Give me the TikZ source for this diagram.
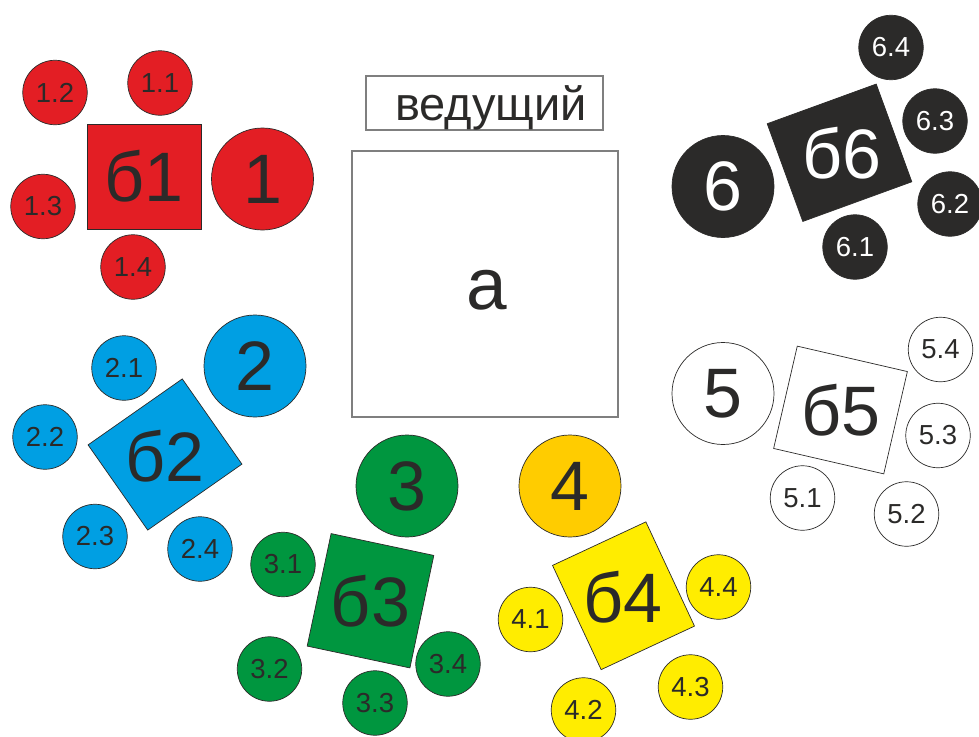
\documentclass[tikz,border=0pt]{standalone}
\usepackage{fontspec}
\setmainfont{Liberation Sans}
\definecolor{ol}{HTML}{2B2A29}
\definecolor{tx}{HTML}{2B2A29}
\definecolor{cred}{HTML}{E31E24}
\definecolor{cblue}{HTML}{009FE3}
\definecolor{cgreen}{HTML}{00963F}
\definecolor{corange}{HTML}{FFCC00}
\definecolor{cyellow}{HTML}{FFED00}
\definecolor{cblack}{HTML}{2B2A29}
\definecolor{frame}{HTML}{7F7F7F}
\tikzset{
  base/.style={draw=ol, line width=0.7pt, inner sep=0pt, text=tx},
  sm/.style={base, circle, minimum size=64.5pt, font=\fontsize{27.5}{27.5}\selectfont},
  big/.style={base, circle, minimum size=102pt, font=\fontsize{70}{70}\selectfont},
  sq/.style={base, rectangle},
  lbl/.style={text=tx, inner sep=0pt, font=\fontsize{70}{70}\selectfont},
  framebox/.style={draw=frame, line width=1.3pt, rectangle, inner sep=0pt},
  dark/.style={fill=cblack, text=white},
}
\begin{document}
\begin{tikzpicture}[x=1pt,y=-1pt]
\useasboundingbox (0,0) rectangle (979,736);
% leader and table
\node[framebox, minimum width=237pt, minimum height=54pt] (lead) at (484.5,103) {};
\node[anchor=base, text=tx, inner sep=0pt, font=\fontsize{47}{47}\selectfont] (leadt) at (491,120) {ведущий};
\node[framebox, minimum width=266pt, minimum height=266pt] (a) at (485,284) {};
\node[lbl, font=\fontsize{73}{73}\selectfont] (at) at (487,290) {а};
% group 1
\begin{scope}[every node/.append style={fill=cred}]
\node[sq, minimum width=114pt, minimum height=105pt] (b1) at (144,176.5) {};
\node[big] (c1) at (262.5,179) {1};
\node[sm] (c11) at (160,83) {1.1};
\node[sm] (c12) at (55,92.5) {1.2};
\node[sm] (c13) at (43,206.5) {1.3};
\node[sm] (c14) at (133,267) {1.4};
\end{scope}
\node[lbl] (b1t) at (b1) {б1};
% group 2
\begin{scope}[every node/.append style={fill=cblue}]
\node[sq, rotate=35, minimum width=115pt, minimum height=104pt] (b2) at (165,454.5) {};
\node[big] (c2) at (255,366) {2};
\node[sm] (c21) at (124,368) {2.1};
\node[sm] (c22) at (45,437) {2.2};
\node[sm] (c23) at (95,536.5) {2.3};
\node[sm] (c24) at (200,549) {2.4};
\end{scope}
\node[lbl] (b2t) at (165,456) {б2};
% group 3
\begin{scope}[every node/.append style={fill=cgreen}]
\node[sq, rotate=-12, minimum width=105pt, minimum height=115pt] (b3) at (370.5,600.75) {};
\node[big] (c3) at (407,486) {3};
\node[sm] (c31) at (283,564.5) {3.1};
\node[sm] (c32) at (269.5,669) {3.2};
\node[sm] (c33) at (375,703) {3.3};
\node[sm] (c34) at (448,664) {3.4};
\end{scope}
\node[lbl] (b3t) at (b3) {б3};
% group 4
\node[big, fill=corange] (c4) at (570,486) {4};
\begin{scope}[every node/.append style={fill=cyellow}]
\node[sq, rotate=25, minimum width=103pt, minimum height=115pt] (b4) at (623.5,595.75) {};
\node[sm] (c41) at (530.5,619.5) {4.1};
\node[sm] (c42) at (583.5,710) {4.2};
\node[sm] (c43) at (690.5,687) {4.3};
\node[sm] (c44) at (718.5,587) {4.4};
\end{scope}
\node[lbl] (b4t) at (623,597) {б4};
% group 5
\begin{scope}[every node/.append style={fill=white}]
\node[sq, rotate=-13, minimum width=113pt, minimum height=105pt] (b5) at (840.5,410) {};
\node[big] (c5) at (723,393.5) {5};
\node[sm] (c51) at (802.5,498) {5.1};
\node[sm] (c52) at (906.5,514) {5.2};
\node[sm] (c53) at (938,435.5) {5.3};
\node[sm] (c54) at (940.5,349.5) {5.4};
\end{scope}
\node[lbl] (b5t) at (b5) {б5};
% group 6
\node[sq, dark, rotate=20, minimum width=116pt, minimum height=104pt] (b6) at (839.5,152.75) {};
\node[big, dark] (c6) at (723,186.5) {6};
\node[sm, dark] (c61) at (855,247) {6.1};
\node[sm, dark] (c62) at (950,204) {6.2};
\node[sm, dark] (c63) at (935,121) {6.3};
\node[sm, dark] (c64) at (891,47.5) {6.4};
\node[lbl, text=white] (b6t) at (842,153) {б6};
\end{tikzpicture}
\end{document}
